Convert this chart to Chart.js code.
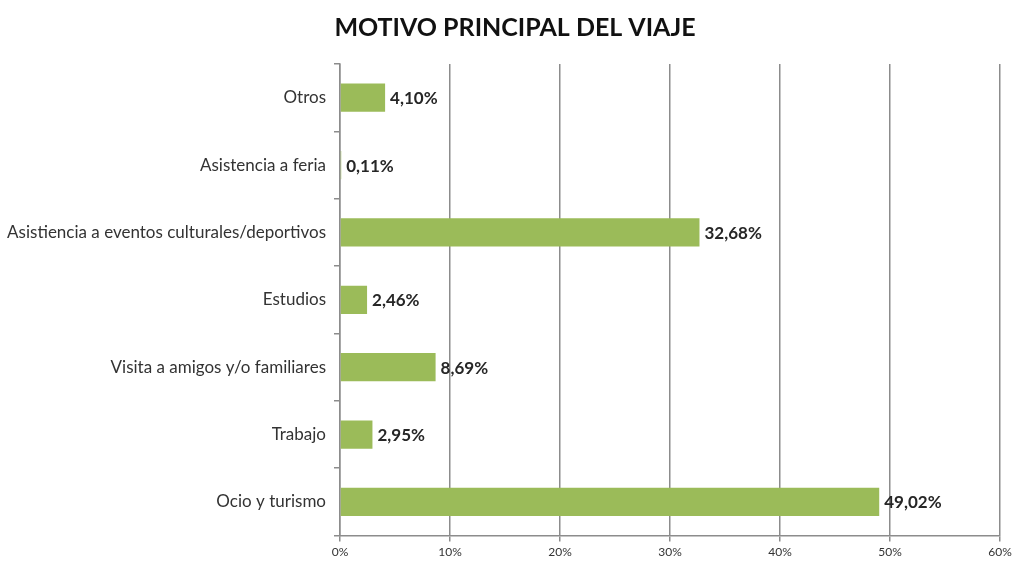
<!DOCTYPE html>
<html>
<head>
<meta charset="utf-8">
<script src="https://cdn.jsdelivr.net/npm/chart.js@4"></script>
<style>
html,body{margin:0;padding:0;background:#fff;}
#wrap{width:1016px;height:562px;position:relative;}
</style>
</head>
<body>
<div id="wrap"><canvas id="c" width="1016" height="562"></canvas></div>
<script>
const categories = [
  "Otros",
  "Asistencia a feria",
  "Asistiencia a eventos culturales/deportivos",
  "Estudios",
  "Visita a amigos y/o familiares",
  "Trabajo",
  "Ocio y turismo"
];
const values = [4.10, 0.11, 32.68, 2.46, 8.69, 2.95, 49.02];
const xTicks = [0, 10, 20, 30, 40, 50, 60];
const titleText = "MOTIVO PRINCIPAL DEL VIAJE";

const FONT = "Lato, 'Open Sans', sans-serif";

const labelPlugin = {
  id: 'barLabels',
  afterDatasetsDraw(chart) {
    const ctx = chart.ctx;
    const meta = chart.getDatasetMeta(0);
    ctx.save();
    ctx.font = "bold 17px " + FONT;
    ctx.fillStyle = "#262626";
    ctx.textAlign = "left";
    ctx.textBaseline = "middle";
    meta.data.forEach((el, i) => {
      const v = chart.data.datasets[0].data[i];
      const txt = v.toFixed(2).replace('.', ',') + '%';
      ctx.fillText(txt, el.x + 5, el.y + 1);
    });
    ctx.restore();
  }
};

const titlePlugin = {
  id: 'customTitle',
  afterDraw(chart) {
    const ctx = chart.ctx;
    ctx.save();
    ctx.font = "bold 25px " + FONT;
    ctx.fillStyle = "#111";
    ctx.textAlign = "center";
    ctx.textBaseline = "middle";
    ctx.fillText(titleText, 515, 28);
    ctx.restore();
  }
};

new Chart(document.getElementById('c'), {
  type: 'bar',
  data: {
    labels: categories,
    datasets: [{
      data: values,
      backgroundColor: '#9BBB59',
      borderWidth: 0,
      categoryPercentage: 1,
      barPercentage: 0.42
    }]
  },
  options: {
    indexAxis: 'y',
    responsive: false,
    animation: false,
    devicePixelRatio: 1,
    layout: { padding: { left: 0, right: 16, top: 64, bottom: 0 } },
    plugins: {
      legend: { display: false },
      tooltip: { enabled: false },
      title: { display: false }
    },
    scales: {
      x: {
        min: xTicks[0],
        max: xTicks[xTicks.length - 1],
        afterBuildTicks(scale) { scale.ticks = xTicks.map(v => ({ value: v })); },
        ticks: {
          callback: v => v + '%',
          color: '#333',
          font: { family: FONT, size: 12 },
          padding: 3
        },
        grid: { color: '#8c8c8c', lineWidth: 1.5, tickLength: 6 },
        border: { color: '#8c8c8c', width: 1.5 }
      },
      y: {
        afterFit(scale) { scale.width = 340; },
        ticks: {
          color: '#333',
          font: { family: FONT, size: 17 },
          padding: 8
        },
        grid: { display: true, drawOnChartArea: false, tickLength: 6, color: '#8c8c8c', lineWidth: 1.5, offset: true },
        border: { color: '#8c8c8c', width: 1.5 }
      }
    }
  },
  plugins: [labelPlugin, titlePlugin]
});
</script>
</body>
</html>
